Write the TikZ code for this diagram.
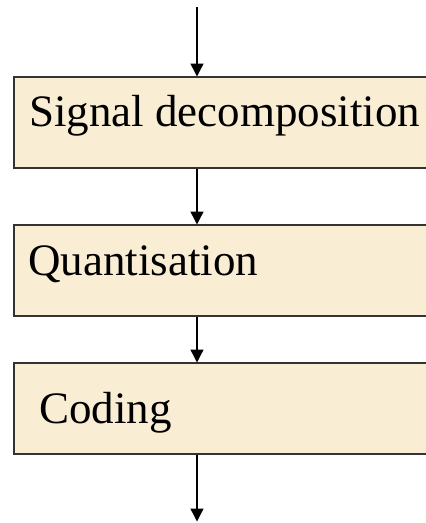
\documentclass[tikz,border=0pt]{standalone}
\usepackage{fontspec}
\setmainfont{Liberation Serif}
\usetikzlibrary{arrows.meta}
\definecolor{boxfill}{HTML}{F9EDD4}
\definecolor{boxline}{HTML}{333333}
\tikzset{
  x=1pt, y=1pt,
  stagebox/.style={draw=boxline, line width=1.5pt, fill=boxfill, rectangle,
    minimum width=440pt, minimum height=91pt, inner sep=0pt, anchor=north west},
  lbl/.style={font=\fontsize{45}{50}\selectfont, inner sep=0pt, anchor=base west, text=black},
  arr/.style={draw=black, line width=1.4pt, -{Triangle[length=13pt,width=13pt]}, shorten >=-0.5pt}
}
\begin{document}
\begin{tikzpicture}
\useasboundingbox (0,0) rectangle (426,-523);
\clip (0,0) rectangle (426,-523);
\node[stagebox] (b1) at (13,-76) {};
\node[stagebox] (b2) at (13,-224) {};
\node[stagebox] (b3) at (13,-362) {};
\node[lbl] (t1) at (29,-126) {Signal decomposition};
\node[lbl] (t2) at (28,-275) {Quantisation};
\node[lbl] (t3) at (39,-423) {Coding};
\coordinate (in) at (197,-7);
\coordinate (out) at (197,-521);
\draw[arr] (in) -- (in |- b1.north);
\draw[arr] (in |- b1.south) -- (in |- b2.north);
\draw[arr] (in |- b2.south) -- (in |- b3.north);
\draw[arr] (in |- b3.south) -- (out);
\end{tikzpicture}
\end{document}
